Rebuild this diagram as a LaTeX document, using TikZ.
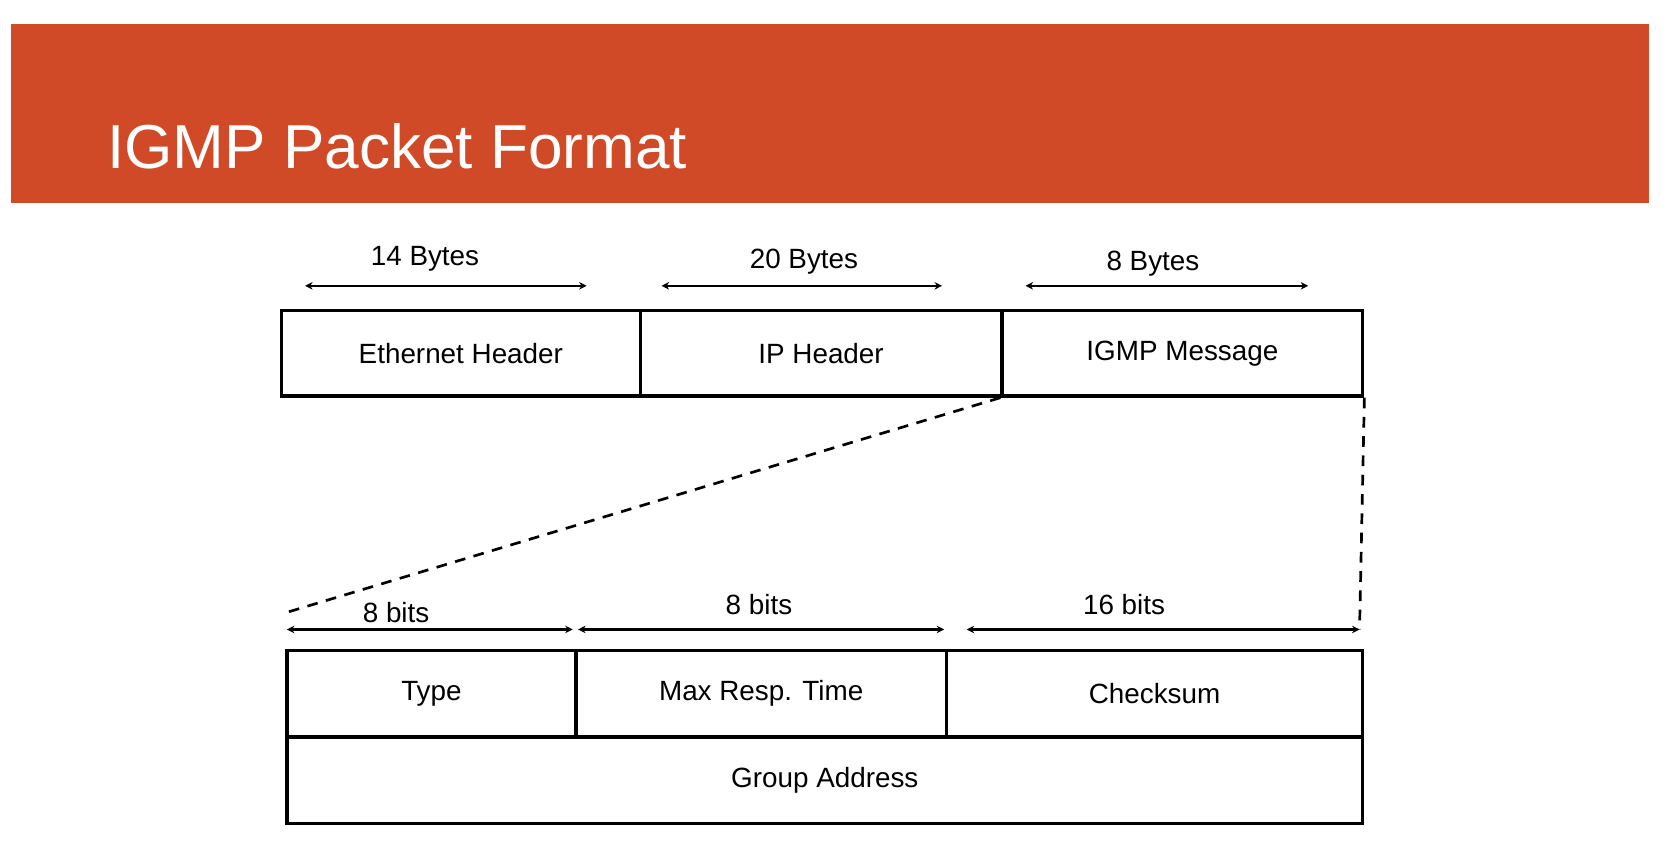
\documentclass[tikz,border=0pt]{standalone}
\usepackage{fontspec}
\setmainfont{Liberation Sans}
\usetikzlibrary{arrows.meta}
\definecolor{banner}{HTML}{D04A27}
\begin{document}
\begin{tikzpicture}[x=1pt,y=-1pt,
  fld/.style={draw,line width=3pt,minimum height=80pt,inner sep=0pt,font=\fontsize{26}{30}\selectfont},
  dim/.style={line width=2pt,{Stealth[length=7pt,width=7pt]}-{Stealth[length=7pt,width=7pt]}},
  lab/.style={font=\fontsize{26}{30}\selectfont,inner sep=0pt},
  dsh/.style={line width=2.5pt,dash pattern=on 10pt off 8pt}]
\useasboundingbox (0,0) rectangle (1560,802);
\fill[white] (0,0) rectangle (1560,802);
\fill[banner] (10,22) rectangle (1540,190);
\node[anchor=base west,text=white,inner sep=0pt,font=\fontsize{58}{64}\selectfont] (title) at (100,157) {IGMP Packet Format};
% top row
\node[fld,minimum width=335pt] (eth) at (430.5,330) {Ethernet Header};
\node[fld,minimum width=338pt] (ip) at (767,330) {IP Header};
\node[fld,minimum width=337pt] (igmp) at (1104.5,330) {IGMP Message};
\coordinate (a1) at (285,267); \coordinate (a2) at (548,267);
\coordinate (b1) at (618,267); \coordinate (b2) at (880,267);
\coordinate (c1) at (958,267); \coordinate (c2) at (1222,267);
\draw[dim] (a1) -- (a2); \draw[dim] (b1) -- (b2); \draw[dim] (c1) -- (c2);
\node[lab] (l1) at (397,242) {14 Bytes};
\node[lab] (l2) at (751,244) {20 Bytes};
\node[lab] (l3) at (1077,246) {8 Bytes};
% bottom
\node[fld,minimum width=270pt] (type) at (403,648) {Type};
\node[fld,minimum width=346pt] (mrt) at (711,648) {Max Resp. Time};
\node[fld,minimum width=389pt] (cks) at (1078.5,648) {Checksum};
\node[fld,minimum width=1005pt] (grp) at (770.5,729) {Group Address};
\coordinate (d1) at (268,588); \coordinate (d2) at (535,588);
\coordinate (e1) at (540,588); \coordinate (e2) at (882,588);
\coordinate (f1) at (903,588); \coordinate (f2) at (1270,588);
\draw[dim] (d1) -- (d2); \draw[dim] (e1) -- (e2); \draw[dim] (f1) -- (f2);
\node[lab] (m1) at (370,572) {8 bits};
\node[lab] (m2) at (709,565) {8 bits};
\node[lab] (m3) at (1050,565) {16 bits};
\coordinate (z1) at (268,572);
\draw[dsh] (igmp.south west) -- (z1);
\draw[dsh] (igmp.south east) -- (f2);
\end{tikzpicture}
\end{document}
